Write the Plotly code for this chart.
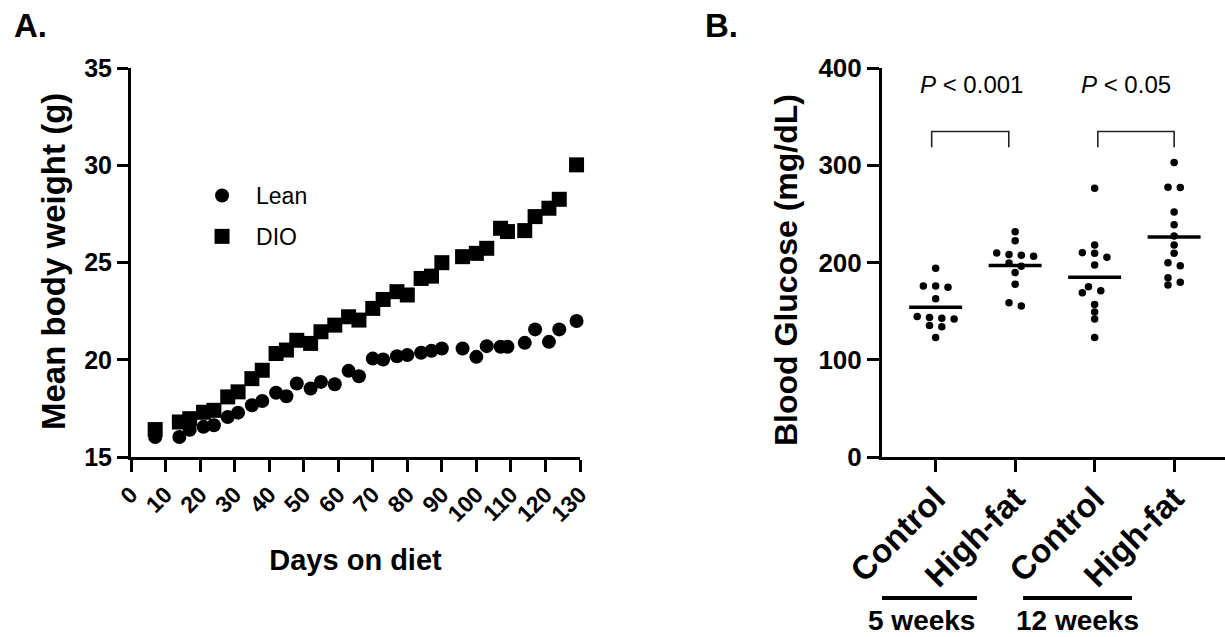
import numpy as np
import plotly.graph_objects as go

# ---------------- Data ----------------
# Panel A: mean body weight (g) vs days on diet
days = [7, 14, 17, 21, 24, 28, 31, 35, 38, 42, 45, 48, 52, 55, 59, 63, 66, 70, 73, 77,
        80, 84, 87, 90, 96, 100, 103, 107, 109, 114, 117, 121, 124, 129]
lean_weight = [16.03, 16.03, 16.40, 16.55, 16.63, 17.06, 17.28, 17.66, 17.88, 18.30,
               18.12, 18.78, 18.52, 18.86, 18.74, 19.43, 19.15, 20.06, 20.01, 20.18,
               20.24, 20.36, 20.46, 20.58, 20.58, 20.15, 20.70, 20.67, 20.67, 20.87,
               21.56, 20.92, 21.56, 21.99]
dio_weight = [16.41, 16.80, 16.97, 17.30, 17.40, 18.09, 18.35, 19.03, 19.46, 20.32,
              20.50, 21.00, 20.84, 21.44, 21.78, 22.21, 22.04, 22.64, 23.10, 23.50,
              23.33, 24.18, 24.30, 24.99, 25.30, 25.47, 25.73, 26.76, 26.59, 26.64,
              27.36, 27.79, 28.25, 30.02]
x_ticks_a = list(range(0, 131, 10))
y_ticks_a = [15, 20, 25, 30, 35]

# Panel B: blood glucose (mg/dL)
group_labels = ["Control", "High-fat", "Control", "High-fat"]
duration_labels = ["5 weeks", "12 weeks"]
glucose_ctrl_5wk = [194.0, 175.8, 175.8, 174.5, 162.7, 144.6, 143.5, 142.8, 141.8, 135.3, 133.9, 123.0]
glucose_hf_5wk = [231.7, 222.4, 209.8, 208.1, 207.4, 206.4, 199.5, 196.1, 189.6, 177.6, 158.6, 155.2]
glucose_ctrl_12wk = [276.4, 218.0, 210.1, 209.5, 205.4, 197.4, 175.1, 171.0, 168.9, 156.9, 149.0, 141.8, 123.0]
glucose_hf_12wk = [302.8, 277.4, 277.0, 252.0, 238.9, 227.3, 218.0, 209.5, 199.8, 196.7, 184.3, 179.6, 176.8]
y_ticks_b = [0, 100, 200, 300, 400]
p_labels = ["<i>P</i> < 0.001", "<i>P</i> < 0.05"]

# ---------------- Layout constants ----------------
W, H = 1225, 637
FONT = "Liberation Sans, Arial, Helvetica, sans-serif"
ydom = [1 - 457 / H, 1 - 68 / H]
xdom_a = [131 / W, 580 / W]
xdom_b = [882 / W, 1.0]
xrange_b = [-0.675, 3.64]
yrange_b = [0, 400]

ppx_b = (xdom_b[1] - xdom_b[0]) * W / (xrange_b[1] - xrange_b[0])
ppy_b = (ydom[1] - ydom[0]) * H / (yrange_b[1] - yrange_b[0])


def swarm_offsets(vals, spacing_px=12.3, tol=6.0, dmin=7.0):
    """Row-based dot-plot spreading (GraphPad-like), returns x offsets in axis units."""
    order = sorted(range(len(vals)), key=lambda i: -vals[i])
    rows = []
    for i in order:
        if rows and vals[rows[-1][0]] - vals[i] <= tol:
            rows[-1].append(i)
        else:
            rows.append([i])
    offs = [0.0] * len(vals)
    placed = []
    for row in rows:
        n = len(row)
        base = [(k - (n - 1) / 2) * spacing_px for k in range(n)]
        cand = base
        for shift in [0, -spacing_px / 2, spacing_px / 2, -spacing_px, spacing_px]:
            cand = [b + shift for b in base]
            ok = all(np.hypot(c - px, (vals[i] - pv) * ppy_b) >= dmin
                     for c, i in zip(cand, row) for px, pv in placed)
            if ok:
                break
        for c, i in zip(cand, row):
            offs[i] = c
            placed.append((c, vals[i]))
    return [o / ppx_b for o in offs]


fig = go.Figure()

# ---------------- Panel A ----------------
fig.add_trace(go.Scatter(
    x=days, y=lean_weight, mode="markers", name="Lean",
    marker=dict(symbol="circle", size=14, color="black"),
    xaxis="x", yaxis="y", cliponaxis=False, legendgroup="lean"))
fig.add_trace(go.Scatter(
    x=days, y=dio_weight, mode="markers", name="DIO",
    marker=dict(symbol="square", size=15, color="black"),
    xaxis="x", yaxis="y", cliponaxis=False, legendgroup="dio"))

# ---------------- Panel B ----------------
groups_b = [glucose_ctrl_5wk, glucose_hf_5wk, glucose_ctrl_12wk, glucose_hf_12wk]
for gi, vals in enumerate(groups_b):
    offs = swarm_offsets(vals)
    fig.add_trace(go.Scatter(
        x=[gi + o for o in offs], y=vals, mode="markers",
        marker=dict(size=7.5, color="black"), showlegend=False,
        xaxis="x2", yaxis="y2", cliponaxis=False))
    m = float(np.mean(vals))
    fig.add_trace(go.Scatter(
        x=[gi - 0.333, gi + 0.333], y=[m, m], mode="lines",
        line=dict(color="black", width=3.5), showlegend=False,
        xaxis="x2", yaxis="y2", cliponaxis=False))

axis_common = dict(showline=True, linecolor="black", linewidth=3, ticks="outside",
                   tickcolor="black", tickwidth=3, showgrid=False, zeroline=False,
                   mirror=False, automargin=False)

fig.update_layout(
    template="none",
    width=W, height=H,
    margin=dict(l=0, r=0, t=0, b=0, autoexpand=False),
    paper_bgcolor="white", plot_bgcolor="white",
    font=dict(family=FONT, color="black"),
    showlegend=True,
    legend=dict(x=0.1535, y=1 - 174 / H, xanchor="left", yanchor="top",
                font=dict(size=23, family=FONT, color="black"),
                bgcolor="rgba(0,0,0,0)", traceorder="grouped", tracegroupgap=8,
                itemwidth=58),
    xaxis=dict(domain=xdom_a, range=[0, 130], tickvals=x_ticks_a, ticklen=12,
               tickangle=-45, tickfont=dict(size=23, weight="bold"),
               title=dict(text="Days on diet", font=dict(size=29, weight="bold"),
                          standoff=24),
               anchor="y", **axis_common),
    yaxis=dict(domain=ydom, range=[15, 35], tickvals=y_ticks_a, ticklen=11,
               tickfont=dict(size=25, weight="bold"), anchor="x", **axis_common),
    xaxis2=dict(domain=xdom_b, range=xrange_b, tickvals=[0, 1, 2, 3],
                ticktext=group_labels, ticklen=12, tickangle=-45,
                ticklabelstandoff=-6,
                tickfont=dict(size=33, weight="bold"), anchor="y2", **axis_common),
    yaxis2=dict(domain=ydom, range=yrange_b, tickvals=y_ticks_b, ticklen=12,
                tickfont=dict(size=26, weight="bold"), anchor="x2", **axis_common),
)

annotations = [
    dict(text="A.", x=12 / W, y=1 - 25 / H, xref="paper", yref="paper",
         xanchor="left", yanchor="middle", showarrow=False,
         font=dict(size=33, weight="bold")),
    dict(text="B.", x=703 / W, y=1 - 25 / H, xref="paper", yref="paper",
         xanchor="left", yanchor="middle", showarrow=False,
         font=dict(size=33, weight="bold")),
    dict(text="Mean body weight (g)", x=53 / W, y=1 - 262 / H, xref="paper", yref="paper",
         xanchor="center", yanchor="middle", textangle=-90, showarrow=False,
         font=dict(size=33, weight="bold")),
    dict(text="Blood Glucose (mg/dL)", x=786 / W, y=1 - 270 / H, xref="paper", yref="paper",
         xanchor="center", yanchor="middle", textangle=-90, showarrow=False,
         font=dict(size=32, weight="bold")),
    dict(text=p_labels[0], x=0.453, y=1 - 85 / H, xref="x2", yref="paper",
         xanchor="center", yanchor="middle", showarrow=False, font=dict(size=24)),
    dict(text=p_labels[1], x=2.394, y=1 - 85 / H, xref="x2", yref="paper",
         xanchor="center", yanchor="middle", showarrow=False, font=dict(size=24)),
    dict(text=duration_labels[0], x=-0.18, y=1 - 620 / H, xref="x2", yref="paper",
         xanchor="center", yanchor="middle", showarrow=False, borderpad=0,
         font=dict(size=28, weight="bold")),
    dict(text=duration_labels[1], x=1.79, y=1 - 620 / H, xref="x2", yref="paper",
         xanchor="center", yanchor="middle", showarrow=False, borderpad=0,
         font=dict(size=28, weight="bold")),
]
fig.update_layout(annotations=annotations)

shapes = []
for (x0, x1) in [(-0.05, 0.92), (2.04, 3.0)]:
    shapes.append(dict(type="path", xref="x2", yref="y2",
                       path=f"M {x0} 318.6 L {x0} 334.7 L {x1} 334.7 L {x1} 318.6",
                       line=dict(color="#222222", width=1.6)))
for (x0, x1) in [(-0.84, 0.52), (1.10, 2.47)]:
    shapes.append(dict(type="line", xref="x2", yref="paper", x0=x0, x1=x1,
                       y0=1 - 598 / H, y1=1 - 598 / H,
                       line=dict(color="black", width=4)))
fig.update_layout(shapes=shapes)

fig.write_html("out.html", config={"displayModeBar": False},
               post_script="document.body.style.margin='0px';document.body.style.overflow='hidden';")
